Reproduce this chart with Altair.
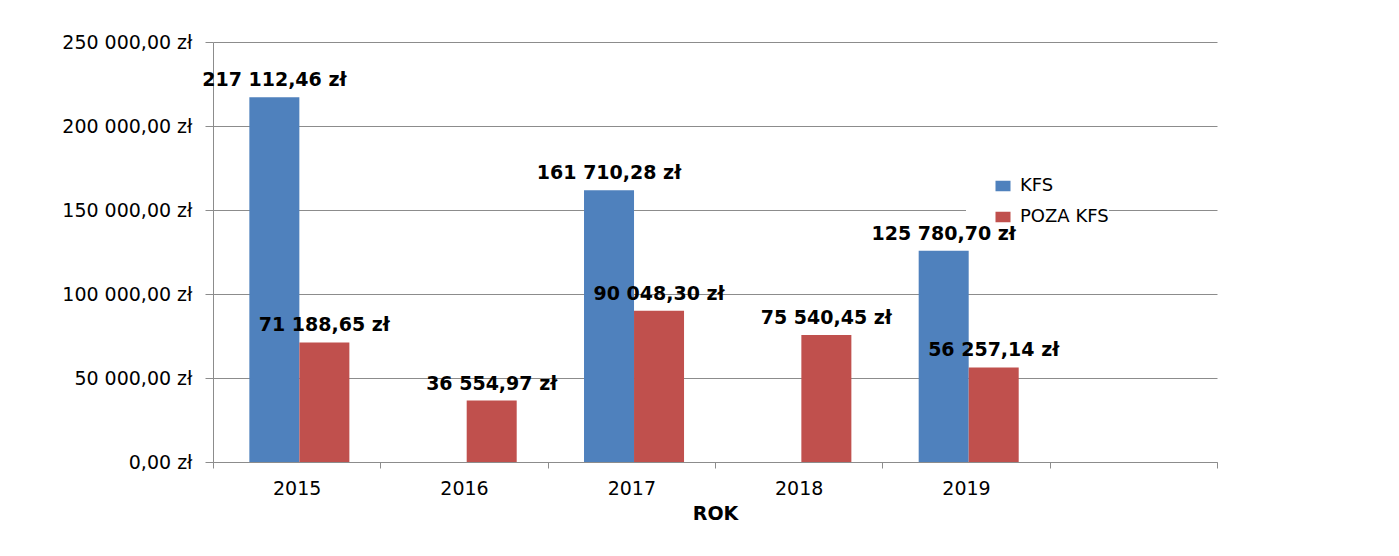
import altair as alt
import pandas as pd

years = ["2015", "2016", "2017", "2018", "2019"]
x_domain = years + [" "]
series = ["KFS", "POZA KFS"]
kfs = [217112.46, None, 161710.28, None, 125780.70]
poza = [71188.65, 36554.97, 90048.30, 75540.45, 56257.14]
colors = ["#4F81BD", "#C0504D"]
y_ticks = [0, 50000, 100000, 150000, 200000, 250000]


def pl(v):
    return f"{v:,.2f}".replace(",", " ").replace(".", ",") + " zł"


rows = []
for yr, a, b in zip(years, kfs, poza):
    for s, v in ((series[0], a), (series[1], b)):
        if v is not None:
            rows.append({"rok": yr, "seria": s, "kwota": v, "etykieta": pl(v)})
df = pd.DataFrame(rows)

AX_FONT = "DejaVu Sans"
GRID = "#8c8c8c"

x = alt.X(
    "rok:N",
    scale=alt.Scale(domain=x_domain, paddingInner=0, paddingOuter=0),
    axis=alt.Axis(
        title="ROK",
        labelAngle=0,
        tickBand="extent",
        tickSize=6,
        tickColor=GRID,
        domainColor=GRID,
        labelFont=AX_FONT,
        labelFontSize=19,
        labelColor="#000000",
        labelPadding=11,
        titleFont=AX_FONT,
        titleFontSize=19,
        titleFontWeight="bold",
        titleColor="#000000",
        titlePadding=6,
        grid=False,
    ),
)
xo = alt.XOffset(
    "seria:N",
    scale=alt.Scale(domain=series, paddingOuter=0.673, paddingInner=0, align=0.54),
)
y = alt.Y(
    "kwota:Q",
    scale=alt.Scale(domain=[0, 250000], nice=False, zero=True),
    axis=alt.Axis(
        title=None,
        values=y_ticks,
        labelExpr="datum.value == 0 ? '0,00 zł' : format(datum.value / 1000, 'd') + ' 000,00 zł'",
        tickSize=8,
        tickColor=GRID,
        domainColor=GRID,
        gridColor=GRID,
        grid=True,
        labelFont=AX_FONT,
        labelFontSize=19,
        labelColor="#000000",
        labelPadding=13,
    ),
)

bars = alt.Chart(df).mark_bar().encode(
    x=x,
    xOffset=xo,
    y=y,
    color=alt.Color(
        "seria:N",
        scale=alt.Scale(domain=series, range=colors),
        legend=alt.Legend(
            title=None,
            orient="none",
            legendX=753,
            legendY=138,
            fillColor="white",
            padding=0,
            symbolOffset=28,
            symbolType="M-1,-0.7H1V0.7H-1Z",
            symbolSize=225,
            symbolStrokeWidth=0,
            clipHeight=12,
            labelFont=AX_FONT,
            labelFontSize=18,
            labelColor="#000000",
            labelOffset=8,
            rowPadding=13,
        ),
    ),
)

labels = alt.Chart(df).mark_text(
    font=AX_FONT,
    fontWeight="bold",
    fontSize=19,
    color="#000000",
    align="center",
    baseline="alphabetic",
    dy=-11,
).encode(x=x, xOffset=xo, y=y, text="etykieta:N")

chart = (
    alt.layer(bars, labels)
    .properties(
        width=1004,
        height=420,
        padding={"left": 205, "top": 34, "right": 174, "bottom": 94},
        autosize=alt.AutoSizeParams(type="none"),
        background="white",
    )
    .configure_view(stroke=None)
)

chart.save("out.html", embed_options={"renderer": "svg", "actions": False})
